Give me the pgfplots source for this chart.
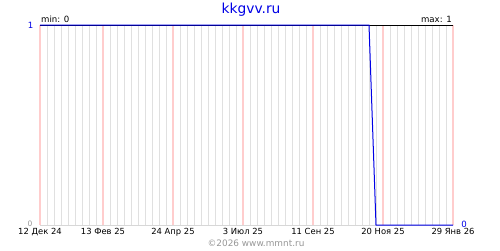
\documentclass[border=0pt]{standalone}
\usepackage{pgfplots}
\pgfplotsset{compat=1.18}
\usepackage{fontspec}
\setmainfont{DejaVu Sans}
\definecolor{gridgray}{RGB}{224,224,224}
\definecolor{gridpink}{RGB}{255,205,205}
\definecolor{axgray}{RGB}{215,215,215}
\definecolor{tblue}{RGB}{0,0,230}
\definecolor{cgray}{RGB}{150,150,150}
\begin{document}
\begin{tikzpicture}[x=1pt,y=1pt]
\useasboundingbox (0,0) rectangle (500,250);
\begin{axis}[
  at={(40pt,25pt)}, anchor=south west,
  width=413pt, height=200pt, scale only axis,
  xmin=0, xmax=413, ymin=0, ymax=1,
  axis line style={draw=none},
  xtick={0,63,133,203,273,343,413},
  xticklabels={12 Дек 24,13 Фев 25,24 Апр 25,3 Июл 25,11 Сен 25,20 Ноя 25,29 Янв 26},
  minor xtick={7,14,21,28,35,42,49,56,70,77,84,91,98,105,112,119,126,140,147,154,161,168,175,182,189,196,210,217,224,231,238,245,252,259,266,280,287,294,301,308,315,322,329,336,350,357,364,371,378,385,392,399,406},
  xminorgrids,
  minor grid style={gridgray, line width=1pt},
  major tick length=0pt, minor tick length=0pt,
  ytick=\empty,
  xticklabel style={font=\fontsize{8.4}{9}\selectfont, anchor=base, yshift=-9.5pt, inner sep=0pt},
  clip=false,
]
\foreach \t in {0,63,133,203,273,343,413} {
  \edef\tmp{\noexpand\draw[gridpink, line width=1.2pt] (axis cs:\t,0) -- (axis cs:\t,1);}
  \tmp
}
\draw[axgray, line width=1pt] (axis cs:0,0) -- (axis cs:413,0);
\draw[black, line width=1pt] (axis cs:0,1) -- (axis cs:413,1);
\addplot[tblue, line width=1pt] coordinates {(0,1) (329,1) (336,0) (413,0)};
\end{axis}
\node[anchor=center, text=tblue, font=\fontsize{13.8}{15}\selectfont, inner sep=0pt] at (251,240) {kkgvv.ru};
\node[anchor=base west, font=\fontsize{8.6}{9}\selectfont, inner sep=0pt] at (41,227.5) {min: 0};
\node[anchor=base east, font=\fontsize{8.6}{9}\selectfont, inner sep=0pt] at (452,227.5) {max: 1};
\node[anchor=center, text=tblue, font=\fontsize{8.6}{9}\selectfont, inner sep=0pt] at (30.5,225) {1};
\node[anchor=center, text=cgray, font=\fontsize{7.5}{8}\selectfont, inner sep=0pt] at (30,26.5) {0};
\node[anchor=center, text=tblue, font=\fontsize{8.6}{9}\selectfont, inner sep=0pt] at (464,26) {0};
\node[anchor=base, text=cgray, font=\fontsize{8.9}{9}\selectfont, inner sep=0pt] at (256,3.5) {©2026 www.mmnt.ru};
\end{tikzpicture}
\end{document}
